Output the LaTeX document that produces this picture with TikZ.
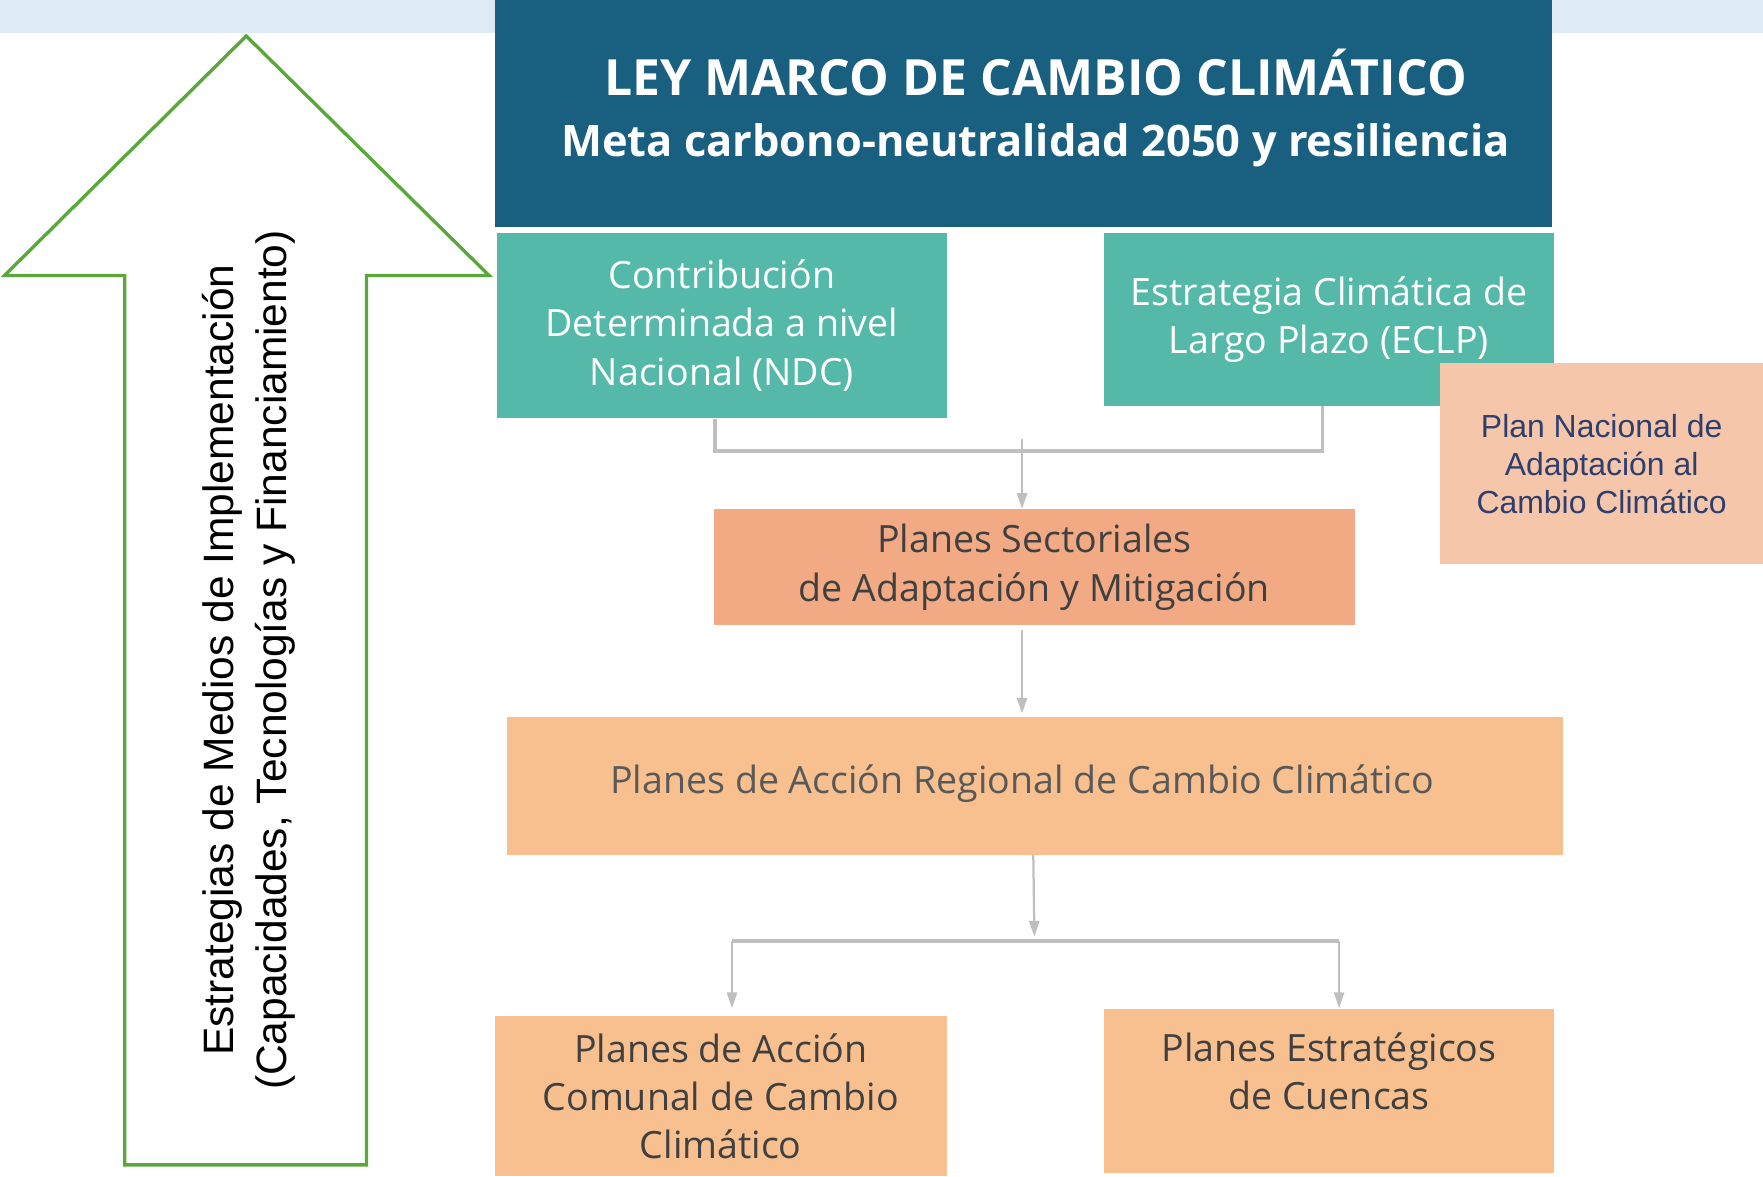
\documentclass[tikz,border=0pt]{standalone}
\usepackage{fontspec}
\setmainfont{Open Sans}
\newfontfamily\arialf{Liberation Sans}
\usetikzlibrary{arrows.meta}
\definecolor{bandblue}{HTML}{DEEBF7}
\definecolor{titleblue}{HTML}{185F80}
\definecolor{tealbox}{HTML}{55B9AA}
\definecolor{peachlight}{HTML}{F5C6AA}
\definecolor{salmon}{HTML}{F2AA84}
\definecolor{orangebox}{HTML}{F9C08F}
\definecolor{lgray}{HTML}{BFBFBF}
\definecolor{arrowgreen}{HTML}{5AA83A}
\definecolor{navytext}{HTML}{2E3F6E}
\definecolor{darktext}{HTML}{404040}
\definecolor{midtext}{HTML}{595959}
\tikzset{
  box/.style={inner sep=0pt, align=center, font=\fontsize{16.7}{21.5}\selectfont},
  link/.style={draw=lgray, line width=1.5pt},
  conn/.style={draw=lgray, line width=1pt, -{Triangle[length=7pt,width=4.5pt]}},
}
\begin{document}
\begin{tikzpicture}[x=0.5pt,y=-0.5pt]
\useasboundingbox (0,0) rectangle (1568,1046);
\fill[bandblue] (0,0) rectangle (1568,29);

% title box
\node[box, fill=titleblue, minimum width=470pt, minimum height=101pt] (title) at (910,101) {};
\node[align=center, text=white, inner sep=0pt, font=\fontsize{22.2}{27.5}\bfseries\selectfont] (titletxt) at (921,96)
  {LEY MARCO DE CAMBIO CLIMÁTICO\\
   {\fontsize{19.3}{27.5}\selectfont Meta carbono-neutralidad 2050 y resiliencia}};

% second row
\node[box, fill=tealbox, text=white, minimum width=200pt, minimum height=82.5pt] (ndc) at (642,289.5)
  {Contribución\\Determinada a nivel\\Nacional (NDC)};
\node[box, fill=tealbox, text=white, minimum width=200pt, minimum height=77pt] (eclp) at (1182,284)
  {Estrategia Climática de\\Largo Plazo (ECLP)};
\node[box, fill=peachlight, text=navytext, minimum width=143.5pt, minimum height=89.5pt,
      font=\arialf\fontsize{14.2}{16.8}\selectfont] (pnacc) at (1424.5,412.5)
  {Plan Nacional de\\Adaptación al\\Cambio Climático};

% sectoriales
\node[box, fill=salmon, text=darktext, minimum width=285pt, minimum height=51.5pt] (sect) at (920,504.5)
  {Planes Sectoriales\\de Adaptación y Mitigación};

% regional
\node[box, fill=orangebox, minimum width=469.5pt, minimum height=61pt] (reg) at (920.5,699) {};
\node[box, text=midtext] (regtxt) at (909,697) {Planes de Acción Regional de Cambio Climático};

% bottom
\node[box, fill=orangebox, text=darktext, minimum width=201pt, minimum height=71pt] (com) at (641,975)
  {Planes de Acción\\Comunal de Cambio\\Climático};
\node[box, fill=orangebox, minimum width=200pt, minimum height=73pt] (cue) at (1182,970) {};
\node[box, text=darktext] (cuetxt) at (1182,953) {Planes Estratégicos\\de Cuencas};

% connectors top
\coordinate (j1) at (909,401);
\coordinate (j1t) at (909,390);
\draw[link] (ndc.south -| 636,0) -- (636,401) -- (1176,401) -- (eclp.south -| 1176,0);
\draw[conn] (j1t) -- (sect.north -| j1);
\draw[conn] (sect.south -| j1) ++(0,4) -- ([yshift=1.5pt]reg.north -| j1);

% connectors bottom
\coordinate (j2) at (920,833);
\coordinate (c1) at (651,837);
\coordinate (c2) at (1191,837);
\draw[conn] (reg.south -| 919,0) -- (j2);
\draw[link] (c1) -- (c2);
\draw[conn] (c1) -- ([yshift=3.5pt]com.north -| c1);
\draw[conn] (c2) -- (cue.north -| c2);

% green arrow
\draw[arrowgreen, line width=1.5pt, line join=miter]
  (219,32) -- (435,245) -- (326,245) -- (326,1036) -- (111,1036) -- (111,245) -- (4,245) -- cycle;
\node[rotate=90, align=center, inner sep=0pt, font=\arialf\fontsize{18.9}{23.5}\selectfont] (side) at (221,587)
  {Estrategias de Medios de Implementación\\(Capacidades, Tecnologías y Financiamiento)};
\end{tikzpicture}
\end{document}
